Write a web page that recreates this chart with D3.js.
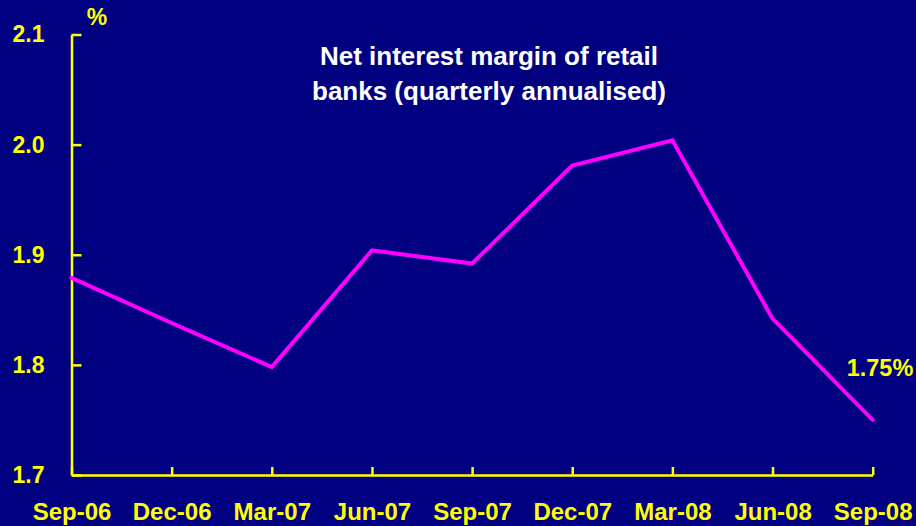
<!DOCTYPE html>
<html>
<head>
<meta charset="utf-8">
<script src="https://cdn.jsdelivr.net/npm/d3@7/dist/d3.min.js"></script>
<style>
  html, body { margin: 0; padding: 0; background: #000080; }
  svg { display: block; }
  text { font-family: "Liberation Sans", Arial, Helvetica, sans-serif; font-weight: bold; }
</style>
</head>
<body>
<svg id="chart" width="916" height="526"></svg>
<script>
// Quarter-end dates on the horizontal axis
const quarters = ["Sep-06", "Dec-06", "Mar-07", "Jun-07", "Sep-07", "Dec-07", "Mar-08", "Jun-08", "Sep-08"];
// Net interest margin, per cent (quarterly annualised)
const margin = [1.879, 1.838, 1.798, 1.904, 1.892, 1.981, 2.004, 1.842, 1.75];
// Vertical axis ticks
const yTicks = [1.7, 1.8, 1.9, 2.0, 2.1];
const titleLines = ["Net interest margin of retail", "banks (quarterly annualised)"];
const endLabel = "1.75%";

const svg = d3.select("#chart");
const W = 916, H = 526;
const yellow = "#FFFF00", magenta = "#FF00FF";

svg.append("rect").attr("width", W).attr("height", H).attr("fill", "#000080");

const x = d3.scalePoint().domain(quarters).range([71.5, 872.7]);
const y = d3.scaleLinear().domain([1.7, 2.1]).range([475, 34.5]);

// Y axis: ticks point inwards, labels to the left
const yAxis = svg.append("g")
  .attr("transform", `translate(${x.range()[0]},0)`)
  .call(d3.axisLeft(y).tickValues(yTicks).tickFormat(d3.format(".1f"))
    .tickSizeInner(-10).tickSizeOuter(0).tickPadding(27));

// X axis: ticks point upwards
const xAxis = svg.append("g")
  .attr("transform", `translate(0,${y(1.7)})`)
  .call(d3.axisBottom(x).tickSizeInner(-8).tickSizeOuter(0).tickPadding(28));

[yAxis, xAxis].forEach(g => {
  g.select(".domain").attr("stroke", yellow).attr("stroke-width", 2.5);
  g.selectAll(".tick line").attr("stroke", yellow).attr("stroke-width", 2.5);
  g.selectAll(".tick text").attr("fill", yellow)
    .attr("font-family", "Liberation Sans, Arial, sans-serif").attr("font-weight", "bold");
});
yAxis.selectAll(".tick text").attr("font-size", 23);
xAxis.selectAll(".tick text").attr("font-size", 24);

// Unit label
svg.append("text").attr("x", 97).attr("y", 25).attr("text-anchor", "middle")
  .attr("fill", yellow).attr("font-size", 23).text("%");

// Title
svg.append("g").selectAll("text").data(titleLines).join("text")
  .attr("x", 489).attr("y", (d, i) => 65 + i * 35)
  .attr("text-anchor", "middle").attr("fill", "#FFFFFF").attr("font-size", 26)
  .text(d => d);

// Margin line
const line = d3.line().x((d, i) => x(quarters[i])).y(d => y(d));
svg.append("path").datum(margin)
  .attr("d", line).attr("fill", "none")
  .attr("stroke", magenta).attr("stroke-width", 4)
  .attr("stroke-linejoin", "miter").attr("stroke-linecap", "round");

// Latest value label
svg.append("text").attr("x", 880).attr("y", 376).attr("text-anchor", "middle")
  .attr("fill", yellow).attr("font-size", 23.5).text(endLabel);
</script>
</body>
</html>
